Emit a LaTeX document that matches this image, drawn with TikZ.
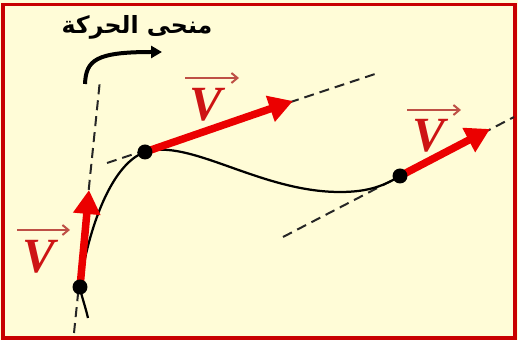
\documentclass[tikz,border=0pt]{standalone}
\usepackage{fontspec}
\setmainfont{Liberation Serif}
\newfontfamily\arabicfont[Script=Arabic]{DejaVu Sans}
\TeXXeTstate=1
\usetikzlibrary{arrows.meta}
\definecolor{bgyellow}{RGB}{255,252,215}
\definecolor{bordercol}{RGB}{200,0,0}
\definecolor{velred}{RGB}{235,0,0}
\definecolor{labred}{RGB}{205,20,20}
\definecolor{overred}{RGB}{190,80,70}
\tikzset{
  tangent/.style={draw=black!85, line width=0.04cm, dash pattern=on 0.2cm off 0.12cm},
  trajectory/.style={draw=black, line width=0.045cm},
  vel/.style={draw=velred, line width=0.15cm, -{Triangle[length=0.48cm,width=0.52cm]}},
  dot/.style={circle, fill=black, inner sep=0pt, minimum size=0.3cm},
  vlabel/.style={text=labred, inner sep=0pt, font=\fontsize{28}{28}\selectfont\bfseries\itshape},
  overarrow/.style={draw=overred, line width=0.04cm, -{Straight Barb[length=0.12cm,width=0.2cm]}},
  motion/.style={draw=black, line width=0.08cm, -{Triangle[length=0.22cm,width=0.24cm]}}
}
\begin{document}
\begin{tikzpicture}[x=0.02cm,y=-0.02cm]
\useasboundingbox (0,0) rectangle (518,340);
\fill[bgyellow] (0,0) rectangle (518,340);
\draw[bordercol, line width=0.07cm] (3,4.5) rectangle (515,338);

\coordinate (A) at (80,287);
\coordinate (B) at (145,152);
\coordinate (C) at (400,176);
\coordinate (s0) at (88,318);
\coordinate (tA1) at (74,333);
\coordinate (tA2) at (100,80);
\coordinate (tB1) at (107,163);
\coordinate (tB2) at (375,74);
\coordinate (tC1) at (283,237);
\coordinate (tC2) at (514,117);
\coordinate (vA) at (89,190);
\coordinate (vB) at (293,101);
\coordinate (vC) at (490,129);

% tangents
\draw[tangent] (tA1) -- (tA2);
\draw[tangent] (tB1) -- (tB2);
\draw[tangent] (tC1) -- (tC2);

% trajectory
\draw[trajectory] (s0) .. controls (85,305) and (81,295) .. (A)
  .. controls (86,240) and (108,165) .. (B)
  .. controls (190,138) and (260,192) .. (340,192)
  .. controls (370,192) and (385,185) .. (C);

% velocity vectors
\draw[vel] (A) -- (vA);
\draw[vel] (B) -- (vB);
\draw[vel] (C) -- (vC);

% points
\node[dot] (dA) at (A) {};
\node[dot] (dB) at (B) {};
\node[dot] (dC) at (C) {};

% labels
\node[vlabel] (lB) at (206,105) {V};
\coordinate (oB1) at (185,78); \coordinate (oB2) at (239,78);
\draw[overarrow] (oB1) -- (oB2);
\node[vlabel] (lC) at (429,136) {V};
\coordinate (oC1) at (407,110); \coordinate (oC2) at (461,110);
\draw[overarrow] (oC1) -- (oC2);
\node[vlabel] (lA) at (39,257) {V};
\coordinate (oA1) at (17,230); \coordinate (oA2) at (70,230);
\draw[overarrow] (oA1) -- (oA2);

% title
\node (title) at (137,27) {\arabicfont\bfseries\fontsize{13.5}{13.5}\selectfont\beginR منحى الحركة\endR};
\coordinate (m1) at (85,84);
\coordinate (m2) at (162,52);
\draw[motion] (m1) .. controls (86,60) and (96,52) .. (m2);
\end{tikzpicture}
\end{document}
